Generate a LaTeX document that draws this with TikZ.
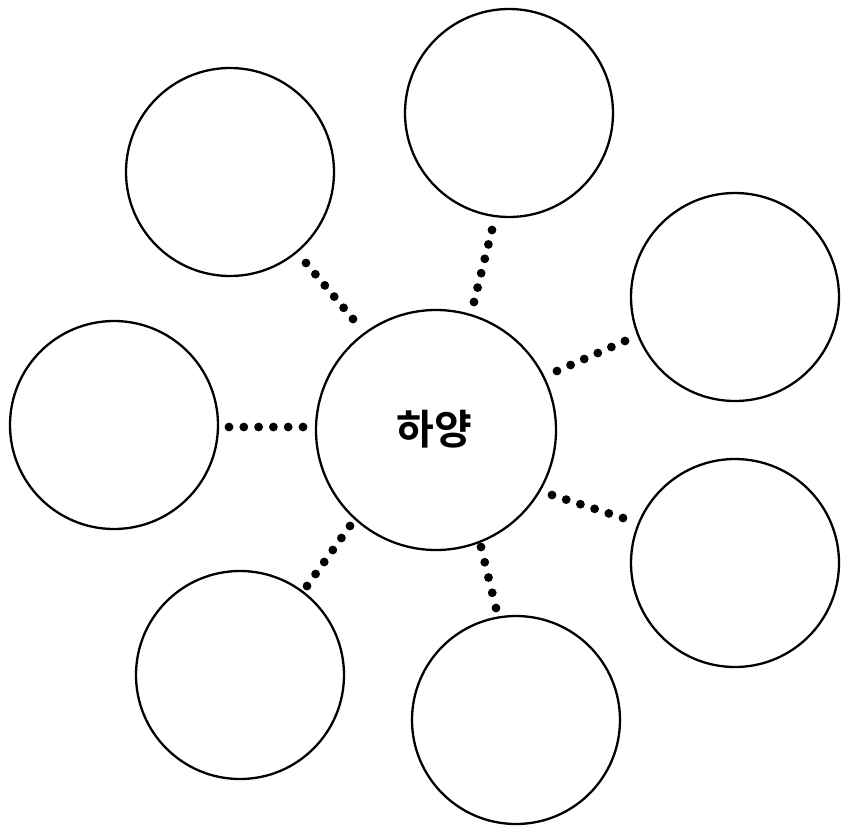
\documentclass[tikz,border=0pt]{standalone}
\usepackage{fontspec}
\newfontfamily\kofont{Noto Sans CJK KR Bold}
\usetikzlibrary{calc}
\begin{document}
\begin{tikzpicture}[x=1pt,y=-1pt,
  bubble/.style={circle, draw=black, line width=2.3pt, fill=white, minimum size=208pt, inner sep=0pt},
  hub/.style={circle, draw=black, line width=2.3pt, fill=white, minimum size=240pt, inner sep=0pt},
  dotmark/.style={fill=black}]
\useasboundingbox (0,0) rectangle (841,828);
\node[hub] (C) at (436,430) {};
\node[font=\kofont\fontsize{41}{43}\selectfont] (T) at (434,429) {하양};
\node[bubble] (O1) at (230,172) {};
\node[bubble] (O2) at (509,113) {};
\node[bubble] (O3) at (735,297) {};
\node[bubble] (O4) at (114,425) {};
\node[bubble] (O5) at (735,563) {};
\node[bubble] (O6) at (240,675) {};
\node[bubble] (O7) at (516,720) {};
\foreach \o/\nx/\ny/\fx/\fy/\n in {
  O1/-83/-111/-130/-167/5,
  O2/38/-128/56/-200/5,
  O3/121/-59/189/-89/5,
  O4/-133/-3/-207/-3/5,
  O5/116/65/187/88/5,
  O6/-86/96/-129/156/5,
  O7/45/117/60/178/4}{
  \coordinate (near-\o) at ($(C)+(\nx,\ny)$);
  \coordinate (far-\o) at ($(C)+(\fx,\fy)$);
  \foreach \i in {0,...,\n}{
    \pgfmathsetmacro{\t}{\i/\n}
    \fill[dotmark] ($(near-\o)!\t!(far-\o)$) circle (4.4pt);
  }
}
\end{tikzpicture}
\end{document}
